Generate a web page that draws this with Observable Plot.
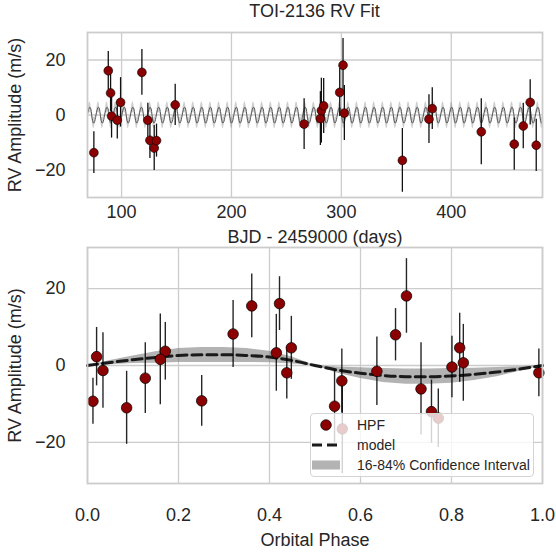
<!DOCTYPE html>
<html><head><meta charset="utf-8">
<script src="https://cdn.jsdelivr.net/npm/d3@7"></script>
<script src="https://cdn.jsdelivr.net/npm/@observablehq/plot@0.6"></script>
<style>
body{margin:0;background:#fff;}
#wrap{position:relative;width:556px;height:554px;font-family:"Liberation Sans",Arial,sans-serif;color:#262626;overflow:hidden;}
#wrap svg{position:absolute;left:0;overflow:visible;}
#title{position:absolute;left:87px;width:455px;top:1px;text-align:center;font-size:18px;line-height:20px;}
#legend{position:absolute;left:310px;top:413px;width:222px;height:62px;border:1px solid #d4d4d4;border-radius:4px;background:rgba(255,255,255,0.8);font-size:14px;}
.lrow{position:absolute;left:0;height:20px;width:100%;}
.lrow svg{position:absolute;left:6px;top:0;}
.lrow span{position:absolute;left:46px;top:2px;line-height:16px;}
</style></head><body><div id="wrap"></div>
<script>
// Observations (HPF): time, RV, error, orbital phase
const bjd   = [74.8, 87.9, 90.0, 90.9, 96.1, 99.1, 118.5, 123.9, 125.8, 129.7, 131.8, 148.8, 266.1, 280.9, 281.8, 283.9, 298.5, 301.5, 302.7, 355.5, 379.7, 382.7, 427.3, 457.3, 465.5, 471.8, 477.3];
const rv    = [-13.7, 16.1, 8.0, -0.4, -1.9, 4.6, 15.5, -1.9, -9.2, -12.0, -9.3, 3.7, -3.3, -1.3, 1.6, 3.3, 8.2, 18.1, 0.7, -16.5, -1.5, 2.3, -6.1, -10.6, -4.0, 4.6, -11.0];
const rvErr = [7.6, 7.0, 6.8, 8.0, 6.8, 9.0, 8.3, 6.2, 6.6, 8.2, 6.0, 7.5, 9.2, 9.8, 11.8, 10.0, 8.7, 9.7, 10.0, 11.6, 8.9, 7.6, 12.0, 9.5, 8.3, 8.2, 9.5];
const phase = [0.771, 0.422, 0.677, 0.801, 0.438, 0.818, 0.361, 0.992, 0.251, 0.756, 0.012, 0.171, 0.127, 0.034, 0.160, 0.415, 0.320, 0.701, 0.826, 0.560, 0.636, 0.020, 0.733, 0.543, 0.559, 0.448, 0.086];

// Model curve and 16-84% band read over one orbital phase
const modelPhase = [0, 0.05, 0.1, 0.15, 0.2, 0.25, 0.3, 0.35, 0.4, 0.45, 0.5, 0.55, 0.6, 0.65, 0.7, 0.75, 0.8, 0.85, 0.9, 0.95, 1.0];
const modelRV    = [0, 0.8, 1.5, 2.1, 2.6, 2.8, 2.8, 2.6, 2.2, 1.3, 0, -1.2, -2.0, -2.6, -2.9, -2.9, -2.7, -2.3, -1.7, -0.9, 0];
const bandHi     = [0, 1.3, 2.5, 3.6, 4.4, 4.7, 4.7, 4.4, 3.7, 2.2, 0, -0.4, -0.6, -0.8, -0.9, -0.9, -0.8, -0.7, -0.5, -0.3, 0];
const bandLo     = [0, 0.2, 0.5, 0.6, 0.8, 0.8, 0.8, 0.8, 0.7, 0.4, 0, -2.0, -3.4, -4.4, -4.9, -4.9, -4.6, -3.9, -2.9, -1.5, 0];
const period = 7.84;   // days
const t0 = 84.59;      // BJD - 2459000 at phase 0

const xTicksTop = [100, 200, 300, 400];
const xTicksBottom = [0, 0.2, 0.4, 0.6, 0.8, 1.0];
const yTicks = [-20, 0, 20];

const obs = bjd.map((t, i) => ({t, rv: rv[i], err: rvErr[i], ph: phase[i]}));
const phaseModel = modelPhase.map((p, i) => ({p, m: modelRV[i], lo: bandLo[i], hi: bandHi[i]}));
const topModel = [];
for (let n = Math.floor((69 - t0) / period) - 1; t0 + n * period < 490; n++) {
  for (let k = 0; k < modelPhase.length - 1; k++) {
    topModel.push({t: t0 + period * (n + modelPhase[k]), m: modelRV[k], lo: bandLo[k], hi: bandHi[k]});
  }
}

const font = '"Liberation Sans", Arial, sans-serif';
const gridC = "#cccccc";
const txtC = "#262626";

const topPlot = Plot.plot({
  width: 556, height: 252,
  marginTop: 32, marginBottom: 55, marginLeft: 87, marginRight: 14,
  style: {background: "transparent", fontFamily: font, fontSize: "18px", color: txtC},
  x: {domain: [69, 483]},
  y: {domain: [-30, 30]},
  marks: [
    Plot.gridX(xTicksTop, {stroke: gridC, strokeOpacity: 1, strokeWidth: 1.3}),
    Plot.gridY(yTicks, {stroke: gridC, strokeOpacity: 1, strokeWidth: 1.3}),
    Plot.areaY(topModel, {x: "t", y1: "lo", y2: "hi", fill: "#888", fillOpacity: 0.4, clip: true}),
    Plot.lineY(topModel, {x: "t", y: "m", stroke: "#555", strokeWidth: 1, clip: true}),
    Plot.ruleX(obs, {x: "t", y1: d => d.rv - d.err, y2: d => d.rv + d.err, stroke: "#111", strokeWidth: 1.3}),
    Plot.dot(obs, {x: "t", y: "rv", r: 4.4, fill: "#8b0000", stroke: "#000", strokeWidth: 0.6}),
    Plot.frame({stroke: gridC, strokeWidth: 1.8}),
    Plot.axisX(xTicksTop, {tickSize: 0, tickPadding: 8, fontSize: 18, fill: txtC,
      label: "BJD - 2459000 (days)", labelAnchor: "center", labelOffset: 45, labelArrow: "none"}),
    Plot.axisY(yTicks, {tickSize: 0, tickPadding: 22, fontSize: 18, fill: txtC,
      label: "RV Amplitude (m/s)", labelAnchor: "center", labelOffset: 79, labelArrow: "none"})
  ]
});

const botPlot = Plot.plot({
  width: 556, height: 309,
  marginTop: 2, marginBottom: 71, marginLeft: 87, marginRight: 14,
  style: {background: "transparent", fontFamily: font, fontSize: "18px", color: txtC},
  x: {domain: [0, 1]},
  y: {domain: [-30.7, 30.7]},
  marks: [
    Plot.gridX(xTicksBottom, {stroke: gridC, strokeOpacity: 1, strokeWidth: 1.3}),
    Plot.gridY(yTicks, {stroke: gridC, strokeOpacity: 1, strokeWidth: 1.3}),
    Plot.areaY(phaseModel, {x: "p", y1: "lo", y2: "hi", fill: "#808080", fillOpacity: 0.6}),
    Plot.lineY(phaseModel, {x: "p", y: "m", stroke: "#1a1a1a", strokeWidth: 3, strokeDasharray: "10,5", curve: "monotone-x"}),
    Plot.ruleX(obs, {x: "ph", y1: d => d.rv - d.err, y2: d => d.rv + d.err, stroke: "#000", strokeOpacity: 0.85, strokeWidth: 1.4}),
    Plot.dot(obs, {x: "ph", y: "rv", r: 5.3, fill: "#8b0000", stroke: "#000", strokeWidth: 0.7}),
    Plot.frame({stroke: gridC, strokeWidth: 1.8}),
    Plot.axisX(xTicksBottom, {tickSize: 0, tickPadding: 25, fontSize: 18, fill: txtC, tickFormat: d3.format(".1f"),
      label: "Orbital Phase", labelAnchor: "center", labelOffset: 62, labelArrow: "none"}),
    Plot.axisY(yTicks, {tickSize: 0, tickPadding: 22, fontSize: 18, fill: txtC,
      label: "RV Amplitude (m/s)", labelAnchor: "center", labelOffset: 79, labelArrow: "none"})
  ]
});

const wrap = document.getElementById("wrap");
const title = document.createElement("div");
title.id = "title";
title.textContent = "TOI-2136 RV Fit";
wrap.appendChild(title);
topPlot.style.top = "0px";
botPlot.style.top = "245px";
wrap.appendChild(topPlot);
wrap.appendChild(botPlot);

const legend = document.createElement("div");
legend.id = "legend";
legend.innerHTML = `
<div class="lrow" style="top:1px"><svg width="32" height="20"><circle cx="15" cy="10" r="5.3" fill="#8b0000" stroke="#000" stroke-width="0.7"/></svg><span>HPF</span></div>
<div class="lrow" style="top:21px"><svg width="32" height="20"><line x1="1" x2="29" y1="10" y2="10" stroke="#1a1a1a" stroke-width="3" stroke-dasharray="10,5"/></svg><span>model</span></div>
<div class="lrow" style="top:41px"><svg width="32" height="20"><rect x="1" y="5.5" width="28" height="9" fill="#808080" fill-opacity="0.6"/></svg><span>16-84% Confidence Interval</span></div>`;
wrap.appendChild(legend);
</script>
</body></html>
